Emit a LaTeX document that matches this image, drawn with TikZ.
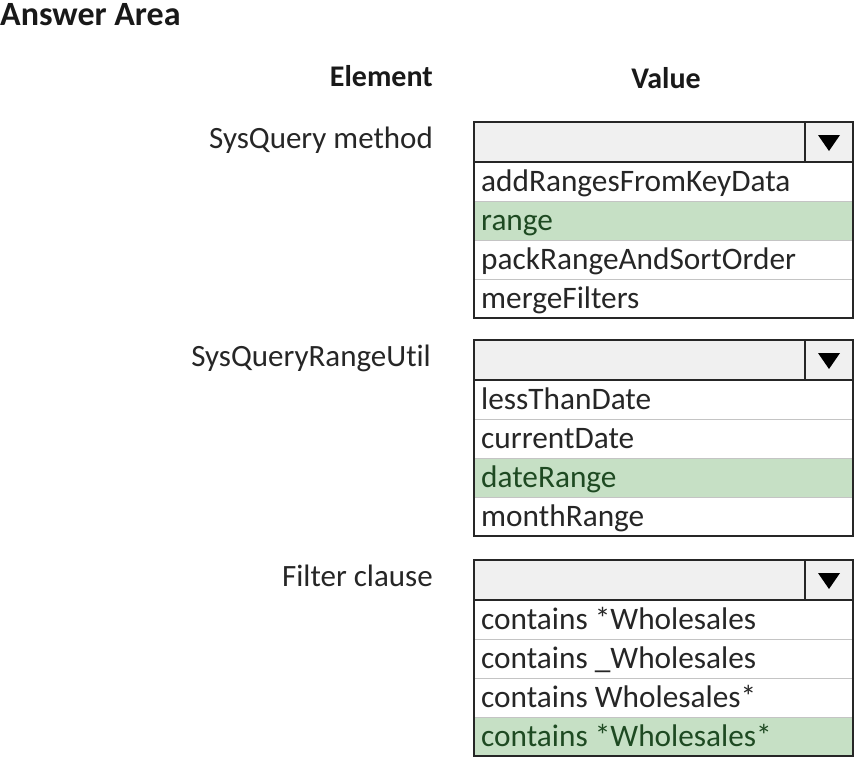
\documentclass[tikz,border=0pt]{standalone}
\usepackage{fontspec}
\setmainfont{Carlito}[Ligatures=NoCommon]
\usetikzlibrary{positioning}
\definecolor{pickgreen}{HTML}{C6E0C5}
\definecolor{pickink}{HTML}{1E4A22}
\definecolor{headgray}{HTML}{F0F0F0}
\definecolor{rowgray}{HTML}{C4C4C4}
\definecolor{frameink}{HTML}{262626}

\begin{document}
\begin{tikzpicture}[x=1pt,y=-1pt,
  frame/.style={draw=frameink,line width=1.4pt},
  rowline/.style={draw=rowgray,line width=1pt},
  lbl/.style={anchor=base east,inner sep=0pt,font=\fontsize{31}{36}\selectfont,text=black!85},
  head/.style={inner sep=0pt,font=\fontsize{30}{36}\selectfont\bfseries,text=black!90},
  item/.style={anchor=base west,inner sep=0pt,font=\fontsize{31.3}{36}\selectfont,text=black!85},
  pick/.style={item,text=pickink}]
\useasboundingbox (0,0) rectangle (854,756);

% headings
\node[head,anchor=base west,font=\fontsize{34}{38}\selectfont\bfseries] (answer) at (0,25) {Answer Area};
\node[head,anchor=base east] (element) at (433,86) {Element};
\node[head,anchor=base] (value) at (666,88) {Value};

% green rows
\fill[pickgreen] (474,201) rectangle (853,240);
\fill[pickgreen] (474,458) rectangle (853,497);
\fill[pickgreen] (474,717) rectangle (853,756);

% dropdown boxes
\foreach \t in {122,340,560}{
  \fill[headgray] (474,\t) rectangle (853,\t+40);
  \foreach \k in {1,2,3} \draw[rowline] (474,\t+40+39*\k) -- (853,\t+40+39*\k);
  \draw[frame] (474,\t) rectangle (853,\t+196);
  \draw[frame] (474,\t+40) -- (853,\t+40);
  \draw[frame] (805,\t) -- (805,\t+40);
  \fill[black] (818,\t+13) -- (840,\t+13) -- (829,\t+29) -- cycle;
}

% element names
\node[lbl] (sysq) at (433,148) {SysQuery method};
\node[lbl] (rutil) at (431,366) {SysQueryRangeUtil};
\node[lbl] (filter) at (433,586) {Filter clause};

% values
\node[item] (v11) at (481,191) {addRangesFromKeyData};
\node[pick] (v12) at (481,230) {range};
\node[item] (v13) at (481,269) {packRangeAndSortOrder};
\node[item] (v14) at (481,308) {mergeFilters};

\node[item] (v21) at (481,409) {lessThanDate};
\node[item] (v22) at (481,448) {currentDate};
\node[pick] (v23) at (481,487) {dateRange};
\node[item] (v24) at (481,526) {monthRange};

\node[item] (v31) at (481,629) {contains *Wholesales};
\node[item] (v32) at (481,668) {contains \_Wholesales};
\node[item] (v33) at (481,707) {contains Wholesales*};
\node[pick] (v34) at (481,746) {contains *Wholesales*};
\end{tikzpicture}
\end{document}
